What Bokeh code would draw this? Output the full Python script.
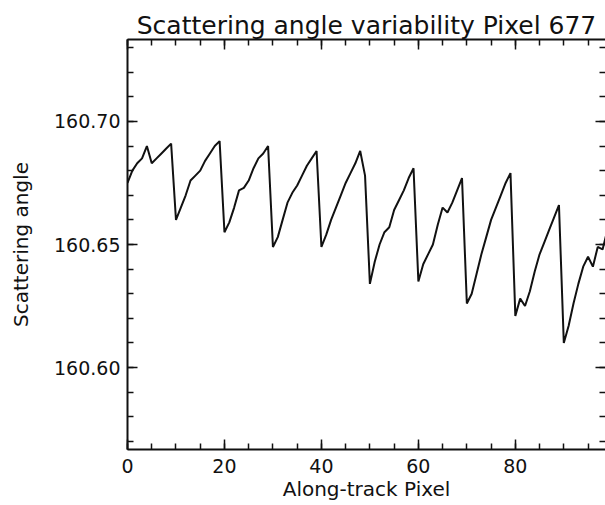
from bokeh.plotting import figure
from bokeh.models import Range1d, LinearAxis, FixedTicker, NumeralTickFormatter, CustomJSTickFormatter
from bokeh.embed import file_html
from bokeh.resources import INLINE

# Along-track pixel index and scattering angle (degrees) for cross-track pixel 677
pixel = list(range(100))
angle = [
    160.675, 160.680, 160.683, 160.685, 160.690, 160.683, 160.685, 160.687, 160.689, 160.691,
    160.660, 160.665, 160.670, 160.676, 160.678, 160.680, 160.684, 160.687, 160.690, 160.692,
    160.655, 160.659, 160.665, 160.672, 160.673, 160.676, 160.681, 160.685, 160.687, 160.690,
    160.649, 160.653, 160.660, 160.667, 160.671, 160.674, 160.678, 160.682, 160.685, 160.688,
    160.649, 160.654, 160.660, 160.665, 160.670, 160.675, 160.679, 160.683, 160.688, 160.678,
    160.634, 160.643, 160.650, 160.655, 160.657, 160.664, 160.668, 160.672, 160.677, 160.681,
    160.635, 160.642, 160.646, 160.650, 160.658, 160.665, 160.663, 160.667, 160.672, 160.677,
    160.626, 160.630, 160.638, 160.646, 160.653, 160.660, 160.665, 160.670, 160.675, 160.679,
    160.621, 160.628, 160.625, 160.631, 160.639, 160.646, 160.651, 160.656, 160.661, 160.666,
    160.610, 160.617, 160.626, 160.634, 160.641, 160.645, 160.641, 160.649, 160.648, 160.656,
]

x_major = [0, 20, 40, 60, 80]
x_minor = list(range(0, 100, 5))
y_major = [160.60, 160.65, 160.70]
y_minor = [round(160.57 + 0.01 * k, 2) for k in range(17)]

FONT = "DejaVu Sans"
INK = "#111111"

p = figure(
    width=605, height=505,
    x_range=Range1d(0, 98.6), y_range=Range1d(160.5667, 160.7333),
    output_backend="svg", toolbar_location=None,
    min_border_left=127, min_border_right=0, min_border_top=39, min_border_bottom=56,
    title="Scattering angle variability Pixel 677",
)
p.outline_line_color = None
p.background_fill_color = "white"
p.border_fill_color = "white"
p.xgrid.visible = False
p.ygrid.visible = False

p.title.text_font = FONT
p.title.text_font_size = "25px"
p.title.text_font_style = "normal"
p.title.text_color = INK
p.title.align = "center"
p.title.standoff = 0

def style_axis(ax, ticker, show_labels):
    ax.ticker = ticker
    ax.axis_line_color = INK
    ax.axis_line_width = 2
    ax.major_tick_in = 10
    ax.major_tick_out = 0
    ax.minor_tick_in = 6
    ax.minor_tick_out = 0
    ax.major_tick_line_color = INK
    ax.minor_tick_line_color = INK
    ax.major_tick_line_width = 1.5
    ax.minor_tick_line_width = 1.5
    ax.major_label_text_font = FONT
    ax.major_label_text_font_size = "19px"
    ax.major_label_text_color = INK
    ax.axis_label_text_font = FONT
    ax.axis_label_text_font_size = "20px"
    ax.axis_label_text_font_style = "normal"
    ax.axis_label_text_color = INK
    if not show_labels:
        ax.formatter = CustomJSTickFormatter(code="return ''")
        ax.major_label_text_font_size = "1px"
        ax.major_label_standoff = 0

xt = FixedTicker(ticks=x_major, minor_ticks=x_minor)
yt = FixedTicker(ticks=y_major, minor_ticks=y_minor)

xa = p.xaxis[0]
style_axis(xa, xt, True)
xa.axis_label = "Along-track Pixel"
xa.major_label_standoff = 9
xa.axis_label_standoff = 1

ya = p.yaxis[0]
style_axis(ya, yt, True)
ya.formatter = NumeralTickFormatter(format="0.00")
ya.axis_label = "Scattering angle"
ya.major_label_standoff = 7
ya.axis_label_standoff = 18

top = LinearAxis()
style_axis(top, FixedTicker(ticks=x_major, minor_ticks=x_minor), False)
p.add_layout(top, "above")

right = LinearAxis()
style_axis(right, FixedTicker(ticks=y_major, minor_ticks=y_minor), False)
right.axis_line_color = None
p.add_layout(right, "right")

p.line(pixel, angle, line_color=INK, line_width=2)

open("out.html", "w").write(file_html(p, INLINE))
